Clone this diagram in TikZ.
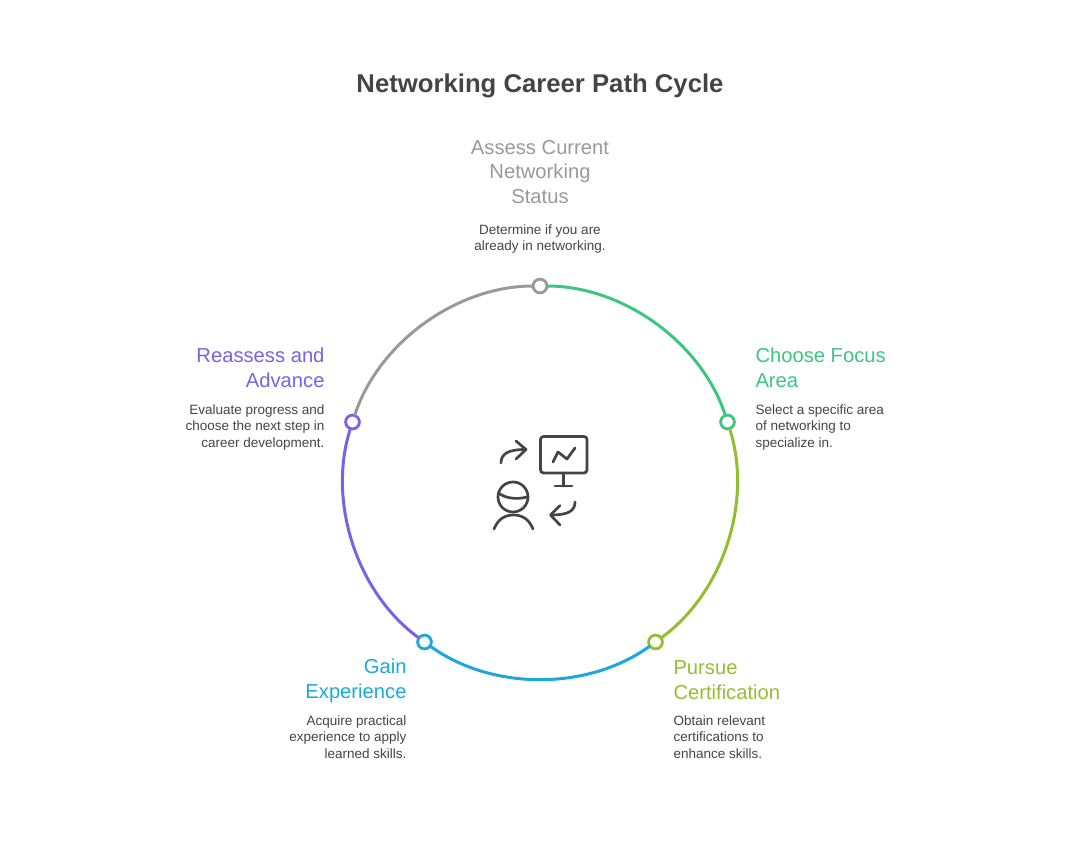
\documentclass[tikz,border=0pt]{standalone}
\usepackage{fontspec}
\setmainfont{Liberation Sans}
\definecolor{assesscol}{HTML}{999999}
\definecolor{focuscol}{HTML}{3CC583}
\definecolor{certcol}{HTML}{93BE32}
\definecolor{expcol}{HTML}{1CA8DD}
\definecolor{advcol}{HTML}{7B61E8}
\definecolor{inkcol}{HTML}{444444}
\tikzset{
  every node/.style={inner sep=0pt,outer sep=0pt},
  dot/.style={circle,draw=#1,fill=white,line width=2.8pt,minimum size=13.8pt},
  arcline/.style={#1,line width=3pt,bend left=36,looseness=.89},
  head/.style={font=\fontsize{20.2}{24.6}\selectfont,text=#1},
  body/.style={font=\fontsize{13.5}{16.2}\selectfont,text=inkcol},
  icon/.style={draw=inkcol,line width=2.7pt,line cap=round,line join=round}
}
\begin{document}
\begin{tikzpicture}[x=1pt,y=-1pt]
  \useasboundingbox (0,0) rectangle (1080,867);
  \node[font=\fontsize{25.7}{32}\selectfont\bfseries,text=inkcol] (title) at (540,85.5) {Networking Career Path Cycle};
  % ring
  \node[dot=assesscol] (assessdot) at (540,286) {};
  \node[dot=focuscol] (focusdot) at (727.5,422) {};
  \node[dot=certcol] (certdot) at (655.5,642) {};
  \node[dot=expcol] (expdot) at (424.5,642) {};
  \node[dot=advcol] (advdot) at (352.5,422) {};
  \draw[arcline=focuscol] (assessdot) to (focusdot);
  \draw[arcline=certcol] (focusdot) to (certdot);
  \draw[arcline=expcol] (certdot) to (expdot);
  \draw[arcline=advcol] (expdot) to (advdot);
  \draw[arcline=assesscol] (advdot) to (assessdot);
  % labels
  \node[head=assesscol,align=center] (assesshead) at (540,172) {Assess Current\\Networking\\Status};
  \node[body,align=center] (assessbody) at (540,239) {Determine if you are\\already in networking.};
  \node[head=focuscol,align=left,anchor=west] (focushead) at (755.5,368) {Choose Focus\\Area};
  \node[body,align=left,anchor=west] (focusbody) at (755.5,427.5) {Select a specific area\\of networking to\\specialize in.};
  \node[head=certcol,align=left,anchor=west] (certhead) at (673.5,680) {Pursue\\Certification};
  \node[body,align=left,anchor=west] (certbody) at (673.5,737) {Obtain relevant\\certifications to\\enhance skills.};
  \node[head=expcol,align=right,anchor=east] (exphead) at (406.5,680.5) {Gain\\Experience};
  \node[body,align=right,anchor=east] (expbody) at (406.5,737) {Acquire practical\\experience to apply\\learned skills.};
  \node[head=advcol,align=right,anchor=east] (advhead) at (324.5,368) {Reassess and\\Advance};
  \node[body,align=right,anchor=east] (advbody) at (324.5,427.5) {Evaluate progress and\\choose the next step in\\career development.};
  % icon
  \draw[icon,rounded corners=3pt] (540.5,436.5) rectangle (587,473);
  \draw[icon] (563.5,473) -- (563.5,486) (555,486) -- (572,486);
  \draw[icon] (553,462) -- (558,452) -- (567,459) -- (575,448);
  \draw[icon] (501,463) .. controls (501,454) and (508,449.5) .. (525,449.5);
  \draw[icon] (516,441) -- (526,449.5) -- (516,459);
  \draw[icon] (513,497) circle (15);
  \draw[icon] (498.5,493) .. controls (505,498) and (516,500) .. (527,497);
  \draw[icon] (494,529) .. controls (498,519) and (505,515) .. (513.5,515) .. controls (522,515) and (529,519) .. (533,529);
  \draw[icon] (575,502) .. controls (575,511) and (568,515) .. (551,515);
  \draw[icon] (560,505.5) -- (550.5,515) -- (560,525);
\end{tikzpicture}
\end{document}
